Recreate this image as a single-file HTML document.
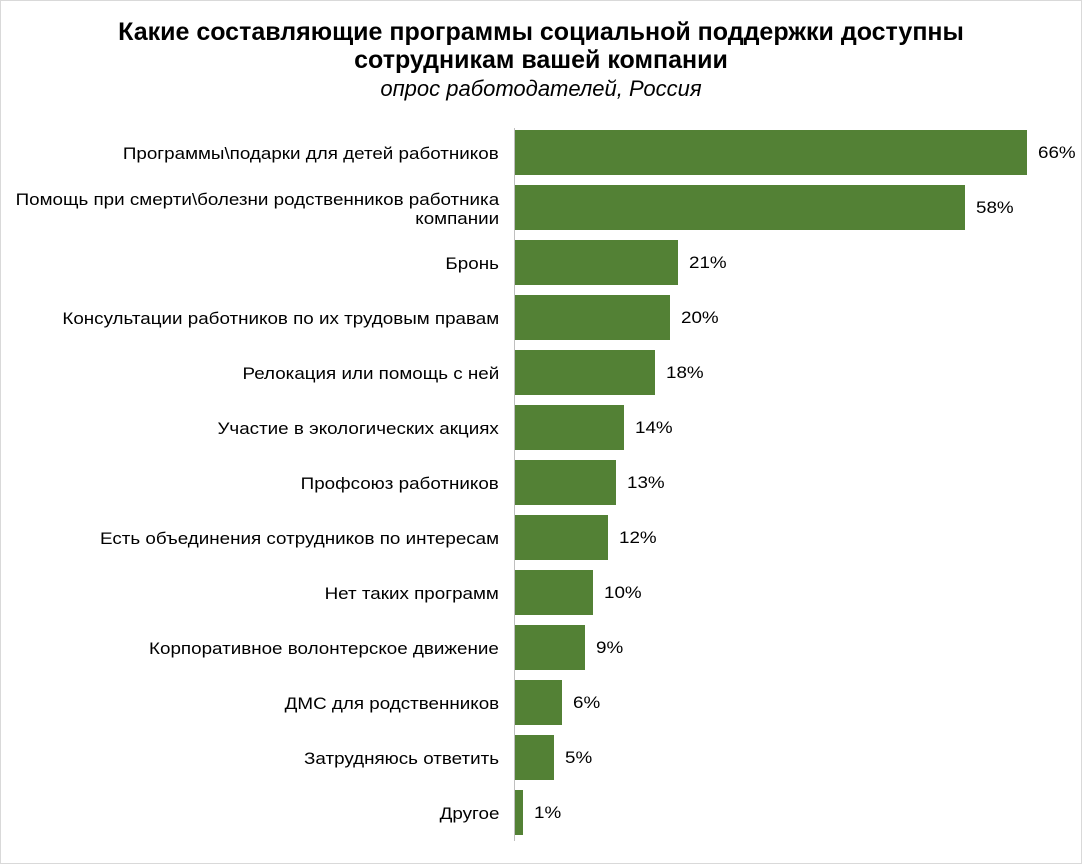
<!DOCTYPE html>
<html><head><meta charset="utf-8"><style>
body{margin:0;background:#fff;}
#c{position:relative;width:1080px;height:862px;border:1px solid #d9d9d9;background:#fff;font-family:"Liberation Sans",Arial,sans-serif;color:#000;overflow:hidden}
.t{position:absolute;left:0;width:1080px;text-align:center;font-weight:bold;font-size:25px;line-height:28px}
.s{position:absolute;left:0;width:1080px;text-align:center;font-style:italic;font-size:22px}
.b{position:absolute;left:514px;height:45px;background:#538135}
.l{position:absolute;right:582px;width:520px;text-align:right;font-size:16.5px;line-height:19px;display:flex;align-items:center;justify-content:flex-end;height:45px;padding-top:2px}
.l span{display:inline-block;transform:scaleX(1.14);transform-origin:right center;white-space:nowrap}
.v{position:absolute;font-size:16.5px;line-height:45px;height:45px;padding-top:1px;transform:scaleX(1.14);transform-origin:left center}
#ax{position:absolute;left:513px;top:127px;width:1px;height:713px;background:#bfbfbf}
</style></head><body><div id="c">
<div class="t" style="top:17px">Какие составляющие программы социальной поддержки доступны<br>сотрудникам вашей компании</div>
<div class="s" style="top:75px">опрос работодателей, Россия</div>
<div id="ax"></div>
<div id="bars"></div>
</div>
<script>
var d=[["Программы\\подарки для детей работников",66],["Помощь при смерти\\болезни родственников работника<br>компании",58],["Бронь",21],["Консультации работников по их трудовым правам",20],["Релокация или помощь с ней",18],["Участие в экологических акциях",14],["Профсоюз работников",13],["Есть объединения сотрудников по интересам",12],["Нет таких программ",10],["Корпоративное волонтерское движение",9],["ДМС для родственников",6],["Затрудняюсь ответить",5],["Другое",1]];
var h="";d.forEach(function(r,i){var y=129+i*55,w=Math.round(r[1]*7.75);
h+='<div class="l" style="top:'+y+'px"><span style="text-align:'+(i==1?'right':'right')+'">'+r[0]+'</span></div>';
h+='<div class="b" style="top:'+y+'px;width:'+w+'px"></div>';
h+='<div class="v" style="top:'+y+'px;left:'+(514+w+11)+'px">'+r[1]+'%</div>';});
document.getElementById("bars").outerHTML=h;
</script>
</body></html>
